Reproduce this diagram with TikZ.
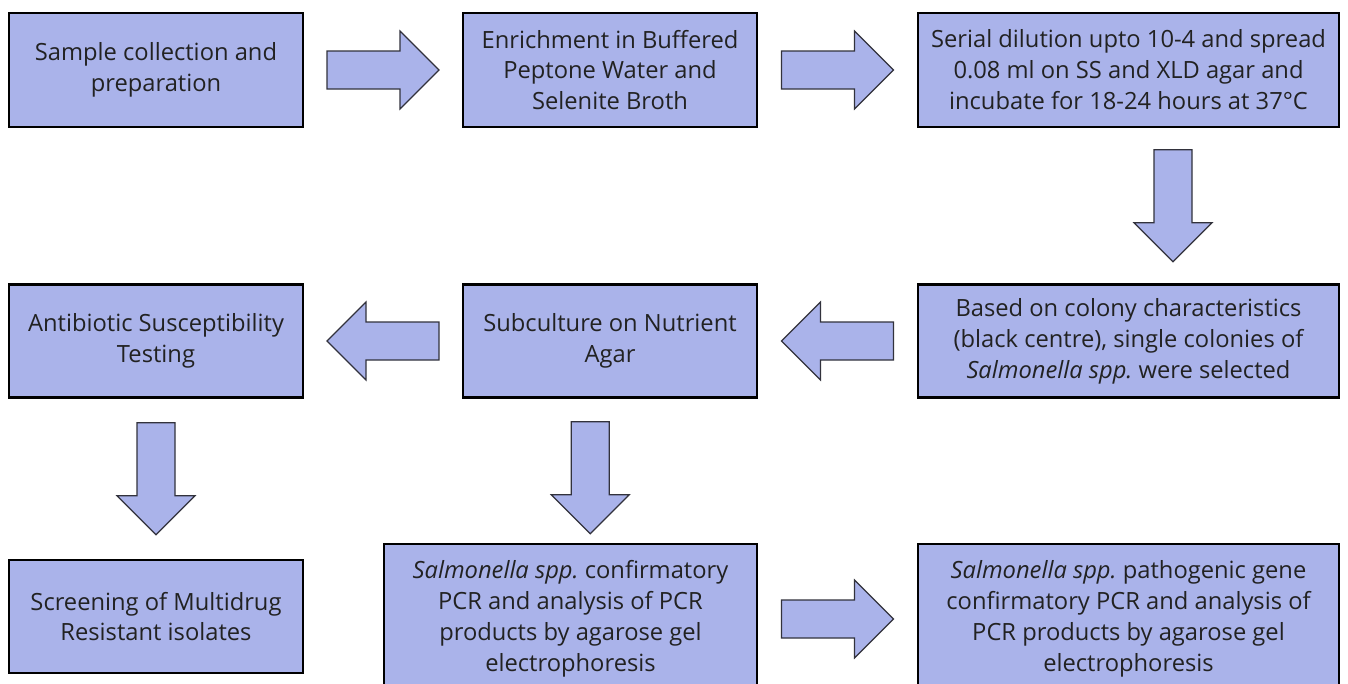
\documentclass[tikz,border=0pt]{standalone}
\usepackage{fontspec}
\setmainfont{Open Sans}
\frenchspacing
\usetikzlibrary{calc}
\definecolor{boxfill}{RGB}{170,179,234}
\definecolor{txt}{RGB}{34,34,34}
\definecolor{arrline}{RGB}{50,50,60}
\def\u{0.02cm}
\tikzset{
  box/.style={draw=black, line width=1.2pt, fill=boxfill, text=txt, align=center,
    inner sep=0pt, font=\fontsize{13.5}{17.6}\selectfont},
  arrowsty/.style={draw=arrline, line width=0.7pt, fill=boxfill, line join=miter},
  pics/barrow/.style={code={
    \draw[arrowsty] (-56,-19) -- (17,-19) -- (17,-39) -- (56,0) -- (17,39) -- (17,19) -- (-56,19) -- cycle;}}
}
\begin{document}
\begin{tikzpicture}[x=0.02cm,y=-0.02cm]
\useasboundingbox (0,0) rectangle (1348,683);
\clip (0,0) rectangle (1348,683);
\fill[white] (0,0) rectangle (1348,683);
% row 1
\node[box, minimum width=294*\u, minimum height=114*\u] (A) at (156,70)
  {Sample collection and\\preparation};
\node[box, minimum width=294*\u, minimum height=114*\u] (B) at (610,70)
  {Enrichment in Buffered\\Peptone Water and\\Selenite Broth};
\node[box, minimum width=421*\u, minimum height=114*\u] (C) at (1128.5,70)
  {Serial dilution upto 10-4 and spread\\0.08 ml on SS and XLD agar and\\incubate for 18-24 hours at 37°C};
% row 2
\node[box, minimum width=294*\u, minimum height=113*\u] (D) at (156,341)
  {Antibiotic Susceptibility\\Testing};
\node[box, minimum width=294*\u, minimum height=113*\u] (E) at (610,341)
  {Subculture on Nutrient\\Agar};
\node[box, minimum width=421*\u, minimum height=113*\u] (F) at (1128.5,341)
  {Based on colony characteristics\\(black centre), single colonies of\\\textit{Salmonella spp.} were selected};
% row 3
\node[box, minimum width=294*\u, minimum height=113*\u] (G) at (156,616.5)
  {Screening of Multidrug\\Resistant isolates};
\node[box, minimum width=373*\u, minimum height=150*\u] (H) at (570.5,619)
  {\textit{Salmonella spp.} confirmatory\\PCR and analysis of PCR\\products by agarose gel\\electrophoresis};
\node[box, minimum width=421*\u, minimum height=150*\u] (I) at (1128.5,619)
  {\textit{Salmonella spp.} pathogenic gene\\confirmatory PCR and analysis of\\PCR products by agarose gel\\electrophoresis};
% block arrows
\pic at ($(A.east)!0.5!(B.west)$) {barrow};
\pic at ($(B.east)!0.5!(C.west)$) {barrow};
\pic[rotate=-90] at ($(C.south)!0.5!(F.north)+(44.5,0)$) {barrow};
\pic[rotate=180] at ($(F.west)!0.5!(E.east)$) {barrow};
\pic[rotate=180] at ($(E.west)!0.5!(D.east)$) {barrow};
\pic[rotate=-90] at ($(D.south)!0.5!(G.north)$) {barrow};
\pic[rotate=-90] at ($(E.south)!0.5!(H.north)+(0,7)$) {barrow};
\pic at ($(H.east)!0.5!(I.west)$) {barrow};
\end{tikzpicture}
\end{document}
